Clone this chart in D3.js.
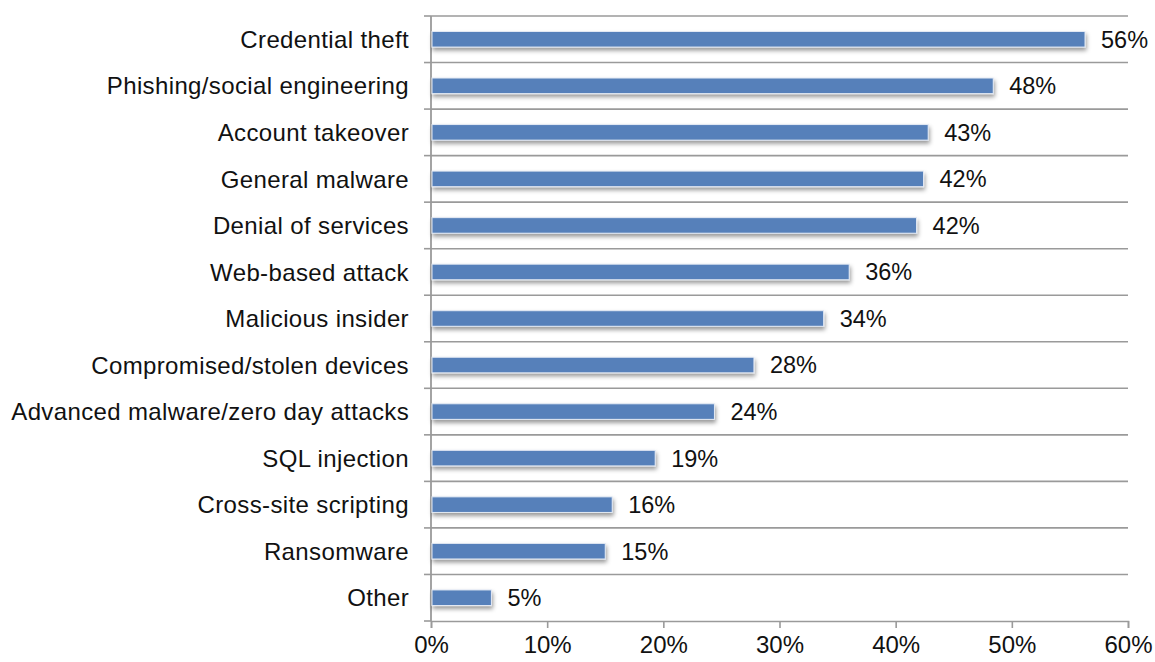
<!DOCTYPE html>
<html><head><meta charset="utf-8">
<script src="https://cdn.jsdelivr.net/npm/d3@7"></script>
<style>body{margin:0;background:#fff}svg{display:block}text{font-family:"Liberation Sans",Arial,Helvetica,sans-serif;fill:#111}</style>
</head><body>
<script>
const categories = ["Credential theft","Phishing/social engineering","Account takeover","General malware","Denial of services","Web-based attack","Malicious insider","Compromised/stolen devices","Advanced malware/zero day attacks","SQL injection","Cross-site scripting","Ransomware","Other"];
const values = [56.3,48.4,42.8,42.4,41.8,36.0,33.8,27.8,24.4,19.3,15.6,15.0,5.2];
const tickValues = [0,10,20,30,40,50,60];

const W=1155,H=662;
const svg=d3.select("body").append("svg").attr("width",W).attr("height",H);
const defs=svg.append("defs");
const f=defs.append("filter").attr("id","sh").attr("x","-5%").attr("y","-50%").attr("width","115%").attr("height","250%");
f.append("feDropShadow").attr("dx",1).attr("dy",3).attr("stdDeviation",2.2).attr("flood-color","#000").attr("flood-opacity",0.4);

const x=d3.scaleLinear().domain([0,60]).range([431,1128]);
const y=d3.scaleBand().domain(categories).range([16,621]).paddingInner(0.665).paddingOuter(0.3325);
const step=y.step();

const bounds=d3.range(categories.length+1).map(i=>16+i*step);
svg.append("g").selectAll("line").data(bounds.slice(0,-1)).join("line")
  .attr("x1",431).attr("x2",1128).attr("y1",d=>d).attr("y2",d=>d)
  .attr("stroke","#9a9a9a").attr("stroke-width",1.6);
svg.append("g").selectAll("line").data(bounds).join("line")
  .attr("x1",424).attr("x2",431).attr("y1",d=>d).attr("y2",d=>d)
  .attr("stroke","#9a9a9a").attr("stroke-width",1.6);

const xa=svg.append("g").attr("transform","translate(0,621)")
  .call(d3.axisBottom(x).tickValues(tickValues).tickFormat(d=>d+"%").tickSize(7).tickPadding(8));
xa.select(".domain").attr("stroke","#9a9a9a").attr("stroke-width",1.6);
xa.selectAll(".tick line").attr("stroke","#9a9a9a").attr("stroke-width",1.6);
xa.selectAll(".tick text").attr("font-size",24).attr("font-family","Liberation Sans, Arial, sans-serif").attr("fill","#111").attr("dy","0.72em");

svg.append("line").attr("x1",431).attr("x2",431).attr("y1",16).attr("y2",621).attr("stroke","#9a9a9a").attr("stroke-width",1.8);

svg.append("g").selectAll("rect").data(values).join("rect")
  .attr("x",x(0)+1).attr("y",(d,i)=>y(categories[i]))
  .attr("width",d=>x(d)-x(0)-1).attr("height",y.bandwidth())
  .attr("fill","#5680BA").attr("stroke","#e4eaf4").attr("stroke-width",1)
  .attr("filter","url(#sh)");

svg.append("g").selectAll("text").data(values).join("text")
  .attr("x",d=>x(d)+16).attr("y",(d,i)=>y(categories[i])+y.bandwidth()/2)
  .attr("dy","0.36em").attr("font-size",23.5).text(d=>Math.round(d)+"%");

svg.append("g").selectAll("text").data(categories).join("text")
  .attr("x",409).attr("y",d=>y(d)+y.bandwidth()/2).attr("dy","0.36em")
  .attr("text-anchor","end").attr("font-size",24).attr("letter-spacing","0.37px").text(d=>d);
</script>
</body></html>
